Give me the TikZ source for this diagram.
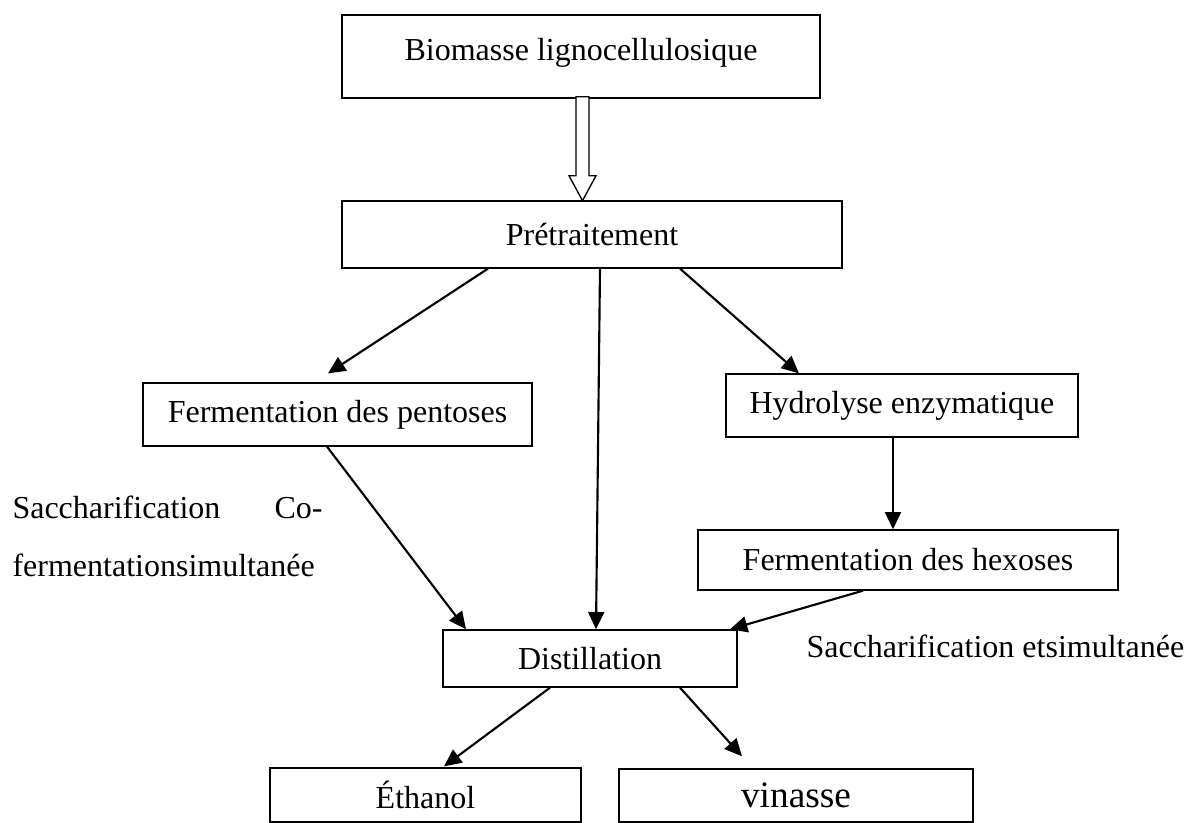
\documentclass[tikz,border=0pt]{standalone}
\usepackage{fontspec}
\setmainfont{Liberation Serif}
\usetikzlibrary{arrows.meta,calc}

\begin{document}
\begin{tikzpicture}[
    x=0.375pt, y=-0.375pt,
    box/.style={draw, line width=0.5pt, inner sep=0pt, font=\fontsize{12}{14}\selectfont},
    arrow/.style={-{Triangle[length=6.5pt,width=6pt]}, line width=0.8pt},
    note/.style={inner sep=0pt, font=\fontsize{12}{22.1}\selectfont}
]
    \useasboundingbox (0,0) rectangle (1192,823);

    % Boxes
    \node[box, minimum width=179.25pt, text height=17.25pt, text depth=13.9pt] (bio) at (581,56.5) {Biomasse lignocellulosique};
    \node[box, minimum width=187.5pt, minimum height=25.1pt] (pre) at (592,234.5) {Prétraitement};
    \node[box, minimum width=145.9pt, minimum height=23.6pt] (pent) at (337.5,414.5) {Fermentation des pentoses};
    \node[box, minimum width=132pt, minimum height=23.6pt] (hydro) at (902,405.5) {Hydrolyse enzymatique};
    \node[box, minimum width=157.5pt, minimum height=22.5pt] (hex) at (908,560) {Fermentation des hexoses};
    \node[box, minimum width=110.25pt, minimum height=21.4pt] (dist) at (590,658.5) {Distillation};
    \node[box, minimum width=116.6pt, minimum height=20.25pt] (eth) at (425.5,795) {Éthanol};
    \node[box, minimum width=132.75pt, minimum height=19.9pt, font=\fontsize{14}{16}\selectfont] (vin) at (796,795.5) {vinasse};

    % Hollow arrow
    \draw[line width=0.5pt, fill=white] ($(bio.south)+(-5,-2)$) -- ++(13,0) -- ++(0,79) -- ++(7,0)
        -- ++(-13.5,25) -- ++(-13.5,-25) -- ++(7,0) -- cycle;

    % Arrows
    \draw[arrow] ($(pre.south)+(-104,0)$) -- ($(pent.north)+(-9.5,-9)$);
    \draw[arrow] ($(pre.south)+(8,0)$) -- ($(dist.north)+(6,0)$);
    \draw[arrow] ($(pre.south)+(88,0)$) -- ($(hydro.north)+(-103,0)$);
    \draw[arrow] ($(pent.south)+(-10.5,0)$) -- ($(dist.north)+(-124,0)$);
    \draw[arrow] ($(hydro.south)+(-9,0)$) -- ($(hex.north)+(-15,0)$);
    \draw[arrow] ($(hex.south)+(-45,0)$) -- ($(dist.north)+(140,0)$);
    \draw[arrow] ($(dist.south)+(-40,0)$) -- ($(eth.north)+(18.5,-1)$);
    \draw[arrow] ($(dist.south)+(90,0)$) -- ($(vin.north)+(-54,-12)$);

    % Notes
    \node[note, anchor=base west, text width=116.25pt, align=left] (ssf) at (12,518)
        {Saccharification\hfill Co-\\fermentationsimultanée};
    \node[note, anchor=base west] (shf) at (806,657) {Saccharification etsimultanée};
\end{tikzpicture}
\end{document}
